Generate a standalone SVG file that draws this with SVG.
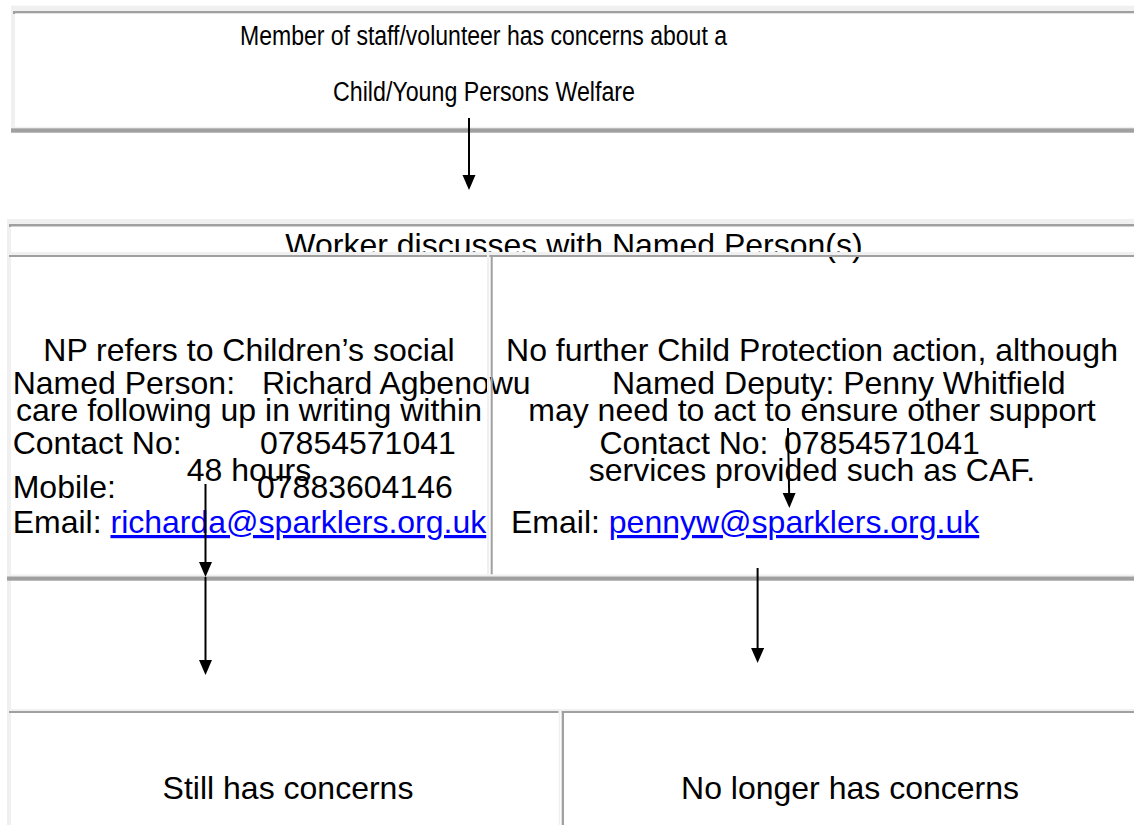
<svg xmlns="http://www.w3.org/2000/svg" width="1134" height="825" viewBox="0 0 1134 825">
<style>
.t{font-family:"Liberation Sans",Arial,sans-serif;font-size:32px;fill:#000}
.top{font-size:27px}
.c{text-anchor:middle}
.link{fill:#0000ff;text-decoration:underline}
.lt{fill:#f0f0f0}
.dk{fill:#a0a0a0}
.conn{stroke:#000;stroke-width:2;fill:none;marker-end:url(#arr)}
</style>
<defs>
<marker id="arr" markerUnits="userSpaceOnUse" markerWidth="15" markerHeight="14" refX="10" refY="6.5" orient="auto">
<path d="M0,0 L15,6.5 L0,13 z" fill="#000"/>
</marker>
</defs>
<rect width="1134" height="825" fill="#fff"/>

<g id="node-top">
<text class="t top" x="240" y="45" textLength="487" lengthAdjust="spacingAndGlyphs">Member of staff/volunteer has concerns about a</text>
<text class="t top" x="333" y="101" textLength="302" lengthAdjust="spacingAndGlyphs">Child/Young Persons Welfare</text>
</g>

<g id="node-worker">
<text class="t c" x="574" y="256">Worker discusses with Named Person(s)</text>
</g>

<g id="node-np">
<text class="t c" x="249" y="361">NP refers to Children’s social</text>
<text class="t c" x="249" y="421">care following up in writing within</text>
<text class="t c" x="249" y="481">48 hours</text>
</g>

<g id="node-named-person">
<text class="t" x="12.7" y="394">Named Person:</text>
<text class="t" x="262" y="394">Richard Agbenowu</text>
<text class="t" x="12.7" y="454">Contact No:</text>
<text class="t" x="260" y="454">07854571041</text>
<text class="t" x="12.7" y="498">Mobile:</text>
<text class="t" x="257" y="498">07883604146</text>
<text class="t" x="12.7" y="533">Email: <tspan class="link">richarda@sparklers.org.uk</tspan></text>
</g>

<g id="node-no-further">
<text class="t c" x="812" y="361">No further Child Protection action, although</text>
<text class="t c" x="812" y="421">may need to act to ensure other support</text>
<text class="t c" x="812" y="481">services provided such as CAF.</text>
</g>

<g id="node-named-deputy">
<text class="t" x="612" y="394">Named Deputy: Penny Whitfield</text>
<text class="t" x="599.5" y="454">Contact No:</text>
<text class="t" x="784" y="454">07854571041</text>
<text class="t" x="511" y="533">Email: <tspan class="link">pennyw@sparklers.org.uk</tspan></text>
</g>

<g id="node-still">
<text class="t c" x="288" y="799">Still has concerns</text>
</g>

<g id="node-no-longer">
<text class="t c" x="850" y="799">No longer has concerns</text>
</g>

<g id="table-frames">
<rect class="lt" x="11" y="5.7" width="1123" height="5.3"/>
<rect class="lt" x="11" y="5.7" width="4" height="122.6"/>
<rect class="dk" x="13" y="11" width="1121" height="2.3"/>
<rect class="dk" x="13" y="11" width="2" height="3"/>
<rect class="lt" x="11" y="126.7" width="1123" height="1.6"/>
<rect class="dk" x="11" y="128.3" width="1123" height="4.4"/>
<rect class="lt" x="7" y="219" width="1127" height="5"/>
<rect class="lt" x="7" y="219" width="4" height="606"/>
<rect class="dk" x="9" y="224" width="1125" height="2.5"/>
<rect class="dk" x="9" y="224" width="2" height="3"/>
<rect class="lt" x="9" y="252" width="1125" height="3"/>
<rect class="dk" x="9" y="255" width="1125" height="2"/>
<rect class="lt" x="487" y="255" width="2.3" height="319.5"/>
<rect class="dk" x="490.7" y="255" width="2" height="319.5"/>
<rect class="lt" x="7" y="574.5" width="1127" height="2"/>
<rect class="dk" x="7" y="576.5" width="1127" height="4.2"/>
<rect class="lt" x="7" y="709" width="1127" height="2"/>
<rect class="dk" x="9" y="711" width="549.7" height="2"/>
<rect class="lt" x="558.7" y="711" width="1.6" height="114"/>
<rect class="dk" x="561.7" y="711" width="572.3" height="2"/>
<rect class="dk" x="561.7" y="711" width="2.3" height="114"/>
</g>

<g id="connectors">
<line class="conn" x1="469" y1="118" x2="469" y2="185"/>
<line class="conn" x1="205.5" y1="484" x2="205.5" y2="572"/>
<line class="conn" x1="205.5" y1="577" x2="205.5" y2="670"/>
<line class="conn" x1="788" y1="428" x2="789.3" y2="503"/>
<line class="conn" x1="757.6" y1="568" x2="757.6" y2="658"/>
</g>
</svg>
